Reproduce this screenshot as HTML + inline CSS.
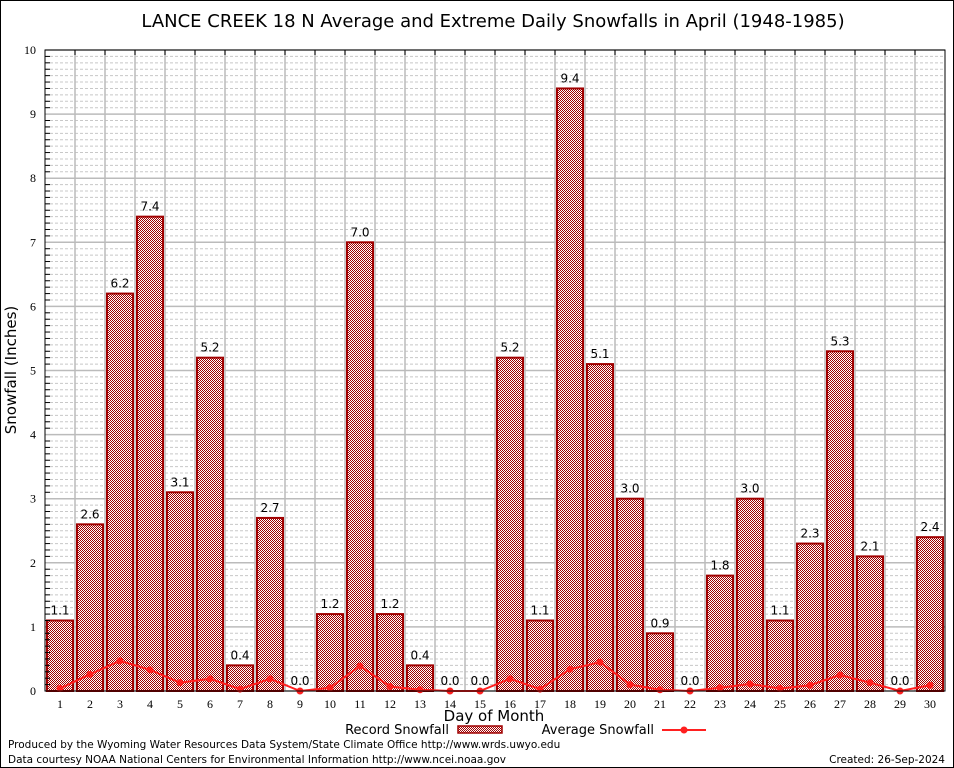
<!DOCTYPE html>
<html><head><meta charset="utf-8">
<style>
html,body{margin:0;padding:0;background:#fff;}
svg{display:block;}
text{font-family:"DejaVu Sans","Liberation Sans",sans-serif;}
.tick{font-family:"Liberation Serif","DejaVu Serif",serif;font-size:12px;}
</style></head>
<body>
<svg id="chart" width="954" height="768" viewBox="0 0 954 768" xmlns="http://www.w3.org/2000/svg">
<defs>
<pattern id="chk" width="2" height="2" patternUnits="userSpaceOnUse">
<rect width="2" height="2" fill="#fff"/>
<rect width="1" height="1" fill="#a00000"/>
<rect x="1" y="1" width="1" height="1" fill="#a00000"/>
</pattern>
</defs>
<rect x="0.5" y="0.5" width="953" height="767" fill="#fff" stroke="#000"/>
<text x="493" y="27" text-anchor="middle" font-size="18">LANCE CREEK 18 N Average and Extreme Daily Snowfalls in April (1948-1985)</text>
<g id="grid"></g>
<g id="bars"></g>
<g id="avg"></g>
<g id="axes"></g>
<text x="16" y="370" text-anchor="middle" font-size="15" transform="rotate(-90 16 370)">Snowfall (Inches)</text>
<text x="494" y="721" text-anchor="middle" font-size="15">Day of Month</text>
<g>
<text x="449" y="734" text-anchor="end" font-size="13">Record Snowfall</text>
<rect x="458" y="726" width="44" height="7" fill="url(#chk)" stroke="#a00000" stroke-width="1.5"/>
<text x="654" y="734" text-anchor="end" font-size="13">Average Snowfall</text>
<line x1="662" y1="730" x2="706" y2="730" stroke="#ff2020" stroke-width="2"/>
<circle cx="684" cy="730" r="3.5" fill="#ff2020"/>
</g>
<text x="8" y="748" font-size="10.5">Produced by the Wyoming Water Resources Data System/State Climate Office http://www.wrds.uwyo.edu</text>
<text x="8" y="763" font-size="10.5">Data courtesy NOAA National Centers for Environmental Information http://www.ncei.noaa.gov</text>
<text x="945" y="763" text-anchor="end" font-size="10.5">Created:  26-Sep-2024</text>
</svg>
<script>
const days = [1,2,3,4,5,6,7,8,9,10,11,12,13,14,15,16,17,18,19,20,21,22,23,24,25,26,27,28,29,30];
const recordSnow = [1.1,2.6,6.2,7.4,3.1,5.2,0.4,2.7,0.0,1.2,7.0,1.2,0.4,0.0,0.0,5.2,1.1,9.4,5.1,3.0,0.9,0.0,1.8,3.0,1.1,2.3,5.3,2.1,0.0,2.4];
const avgSnow = [0.04,0.26,0.47,0.33,0.13,0.19,0.03,0.19,0.0,0.05,0.39,0.07,0.02,0.0,0.0,0.19,0.03,0.34,0.45,0.1,0.02,0.0,0.05,0.11,0.04,0.09,0.25,0.13,0.0,0.09];
const yTicks = [0,1,2,3,4,5,6,7,8,9,10];

const NS='http://www.w3.org/2000/svg';
const L=45,R=945,T=50,B=691,YMAX=10;
const xs = d => L + (d-0.5)*(R-L)/days.length;
const ys = v => B - v*(B-T)/YMAX;
function mk(tag,attrs,parent){const e=document.createElementNS(NS,tag);for(const k in attrs)e.setAttribute(k,attrs[k]);parent.appendChild(e);return e;}
const grid=document.getElementById('grid'),bars=document.getElementById('bars'),avg=document.getElementById('avg'),axes=document.getElementById('axes');

for(let i=0;i<YMAX*10;i++){
  if(i%10===0)continue;
  const y=ys(i/10);
  const ln=mk('line',{x1:L,x2:R,y1:y,y2:y,stroke:'#c8c8c8','stroke-dasharray':'3,2','stroke-width':1},grid);
  
  
  const tk=mk('line',{x1:L,x2:L+5,y1:y,y2:y,stroke:'#000'},axes);
  
  
}
yTicks.forEach(v=>{
  const y=ys(v);
  const ln=mk('line',{x1:L,x2:R,y1:y,y2:y,stroke:'#bbb','stroke-width':1.5},grid);
  
  
  const t=mk('text',{x:L-9,y:y+4,'text-anchor':'end',class:'tick'},axes);
  t.textContent=v;
  
  
});
for(let k=1;k<days.length;k++){
  const x=L+k*(R-L)/days.length;
  const ln=mk('line',{x1:x,x2:x,y1:T,y2:B,stroke:'#bbb','stroke-width':1.5},grid);
  
  
  const tk=mk('line',{x1:x,x2:x,y1:T,y2:T+5,stroke:'#000'},axes);
  
  
}
days.forEach((d,i)=>{
  const x=xs(d),v=recordSnow[i],y=ys(v);
  if(v>0){
    const r=mk('rect',{x:x-13,y:y,width:26,height:B-y,fill:'url(#chk)',stroke:'#a00000','stroke-width':2},bars);
    
    
  }
  const t=mk('text',{x:x,y:y-6,'text-anchor':'middle','font-size':12},bars);
  t.textContent=v.toFixed(1);
  
  
  const xl=mk('text',{x:x,y:B+17,'text-anchor':'middle',class:'tick'},axes);
  xl.textContent=d;
  
  
});
const pts=days.map((d,i)=>xs(d)+','+ys(avgSnow[i])).join(' ');
const pl=mk('polyline',{points:pts,fill:'none',stroke:'#ff2020','stroke-width':2},avg);


days.forEach((d,i)=>{
  const c=mk('circle',{cx:xs(d),cy:ys(avgSnow[i]),r:3.5,fill:'#ff2020'},avg);
  
  
});
const fr=mk('rect',{x:L,y:T,width:R-L,height:B-T,fill:'none',stroke:'#000','stroke-width':1},axes);


</script>
</body></html>
